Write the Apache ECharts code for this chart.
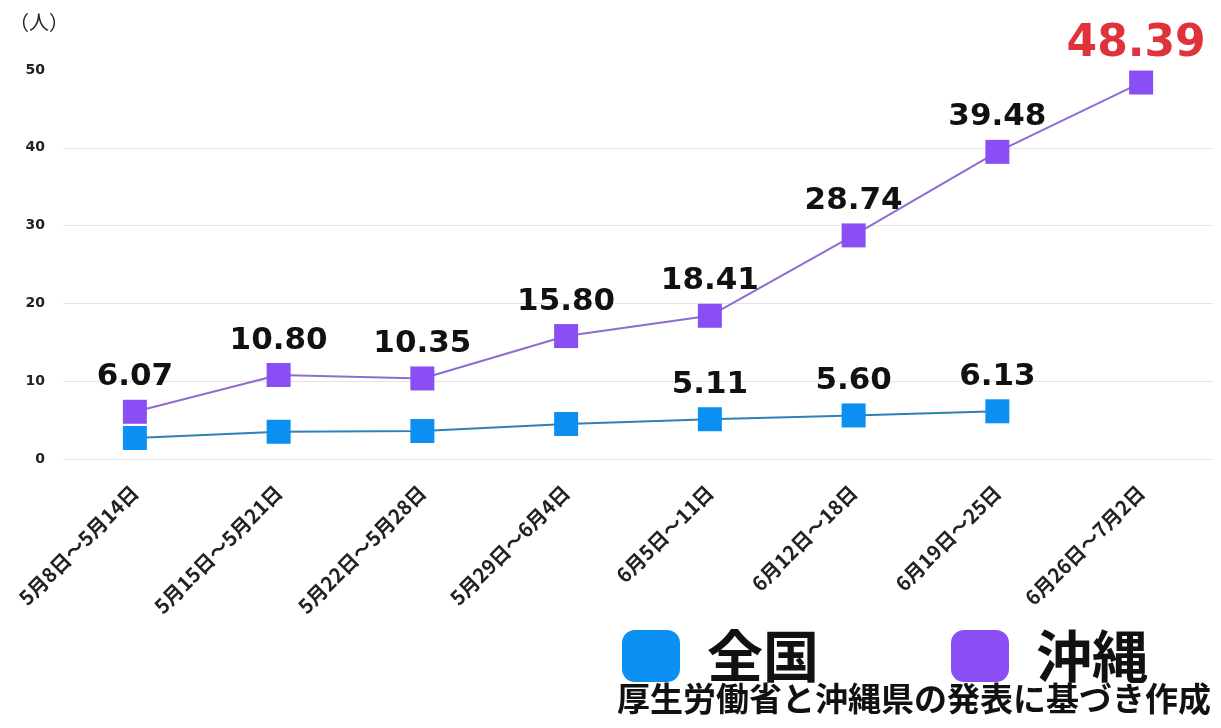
<!DOCTYPE html>
<html><head><meta charset="utf-8">
<script src="https://cdn.jsdelivr.net/npm/echarts@6/dist/echarts.min.js"></script>
<style>html,body{margin:0;padding:0;background:#fff}#c{width:1221px;height:728px}</style>
</head><body><div id="c"></div>
<script>
const categories = ['5月8日～5月14日','5月15日～5月21日','5月22日～5月28日','5月29日～6月4日','6月5日～11日','6月12日～18日','6月19日～25日','6月26日～7月2日'];
const national = [2.7, 3.5, 3.6, 4.5, 5.11, 5.60, 6.13, null];
const nationalLabels = [false, false, false, false, true, true, true, false];
const okinawa = [6.07, 10.80, 10.35, 15.80, 18.41, 28.74, 39.48, 48.39];
const yTicks = [0, 10, 20, 30, 40, 50];

const font = '"Noto Sans CJK JP", "Noto Sans", sans-serif';
const numFont = '"DejaVu Sans", sans-serif';
const chart = echarts.init(document.getElementById('c'));
const natData = national.map((v, i) => ({
  value: v,
  label: { show: nationalLabels[i] }
}));
const okiData = okinawa.map((v, i) => i === okinawa.length - 1 ? {
  value: v,
  label: { color: '#e0323a', fontSize: 44, distance: 4, offset: [-5, 0] }
} : { value: v });
chart.setOption({
  animation: false,
  grid: { left: 63, right: 8, top: 70, bottom: 269 },
  xAxis: {
    type: 'category', data: categories, boundaryGap: true,
    axisLine: { show: false }, axisTick: { show: false },
    axisLabel: { rotate: 45, margin: 30, interval: 0, color: '#222', fontWeight: 'bold', fontSize: 20, fontFamily: font }
  },
  yAxis: {
    type: 'value', min: yTicks[0], max: yTicks[yTicks.length - 1], interval: 10,
    name: '（人）', nameLocation: 'end', nameGap: 38,
    nameTextStyle: { align: 'right', padding: [0, -6, 0, 0], color: '#222', fontSize: 20, fontFamily: font },
    axisLine: { show: false }, axisTick: { show: false },
    axisLabel: { color: '#222', fontWeight: 'bold', fontSize: 14, margin: 18, fontFamily: numFont },
    splitLine: { showMaxLine: false, lineStyle: { color: '#e3e3e3', width: 1 } }
  },
  legend: {
    left: 622, top: 628, padding: 0, itemWidth: 58, itemHeight: 52, itemGap: 132,
    icon: 'roundRect',
    textStyle: { fontSize: 56, fontWeight: 'bold', color: '#111', fontFamily: font, padding: [6, 0, 0, 22] },
    data: ['全国', '沖縄']
  },
  graphic: [{
    type: 'text', right: 10, top: 682,
    style: { text: '厚生労働省と沖縄県の発表に基づき作成', fontSize: 33, fontWeight: 'bold', fill: '#111', fontFamily: font }
  }],
  series: [{
    name: '全国', type: 'line', data: natData,
    symbol: 'rect', symbolSize: 24,
    itemStyle: { color: '#0b8ff0' },
    lineStyle: { color: '#2e82b8', width: 2 },
    label: { show: false, position: 'top', distance: 7, color: '#111', fontSize: 31, fontWeight: 'bold', fontFamily: numFont, formatter: p => p.value.toFixed(2) },
    z: 3
  }, {
    name: '沖縄', type: 'line', data: okiData,
    symbol: 'rect', symbolSize: 24,
    itemStyle: { color: '#8a4ef5' },
    lineStyle: { color: '#8f6cd0', width: 2 },
    label: { show: true, position: 'top', distance: 7, color: '#111', fontSize: 31, fontWeight: 'bold', fontFamily: numFont, formatter: p => p.value.toFixed(2) },
    z: 2
  }]
});
</script></body></html>
